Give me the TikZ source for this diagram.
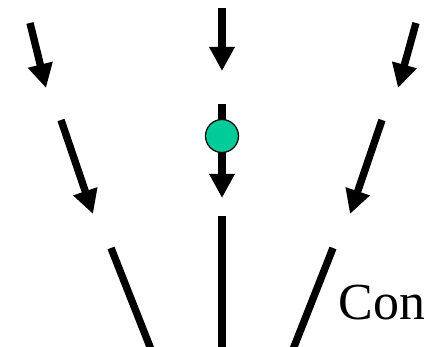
\documentclass[tikz,border=0pt]{standalone}
\usepackage{fontspec}
\setmainfont{Liberation Serif}
\usetikzlibrary{arrows.meta}
\definecolor{dotgreen}{RGB}{0, 204, 153}

\begin{document}
\begin{tikzpicture}[x=0.5pt, y=-0.5pt,
  flow/.style={line width=3.7pt, -{Triangle[width=12pt, length=12pt]}},
  stem/.style={line width=3.7pt},
  every node/.style={font=\fontsize{26}{30}\selectfont}]
\clip (0,0) rectangle (424,347);
% top row
\coordinate (t1s) at (30,23);  \coordinate (t1e) at (46,88);
\coordinate (t2s) at (222,8);  \coordinate (t2e) at (222,71);
\coordinate (t3s) at (416,23); \coordinate (t3e) at (398,88);
% middle row
\coordinate (m1s) at (61,120);  \coordinate (m1e) at (93,214);
\coordinate (m2s) at (222,104); \coordinate (m2e) at (222,198);
\coordinate (m3s) at (382,120); \coordinate (m3e) at (350,214);
% bottom row
\coordinate (b1s) at (111,248); \coordinate (b1e) at (154,357);
\coordinate (b2s) at (222,216); \coordinate (b2e) at (222,357);
\coordinate (b3s) at (333,248); \coordinate (b3e) at (290,357);
\draw[flow] (t1s) -- (t1e);
\draw[flow] (t2s) -- (t2e);
\draw[flow] (t3s) -- (t3e);
\draw[flow] (m1s) -- (m1e);
\draw[flow] (m2s) -- (m2e);
\draw[flow] (m3s) -- (m3e);
\node[circle, draw, line width=0.6pt, fill=dotgreen, minimum size=16.5pt, inner sep=0pt] (dot) at (222,136) {};
\draw[stem] (b1s) -- (b1e);
\draw[stem] (b2s) -- (b2e);
\draw[stem] (b3s) -- (b3e);
\node[anchor=base west, inner sep=0pt] (label) at (338,320) {Con};
\end{tikzpicture}
\end{document}
